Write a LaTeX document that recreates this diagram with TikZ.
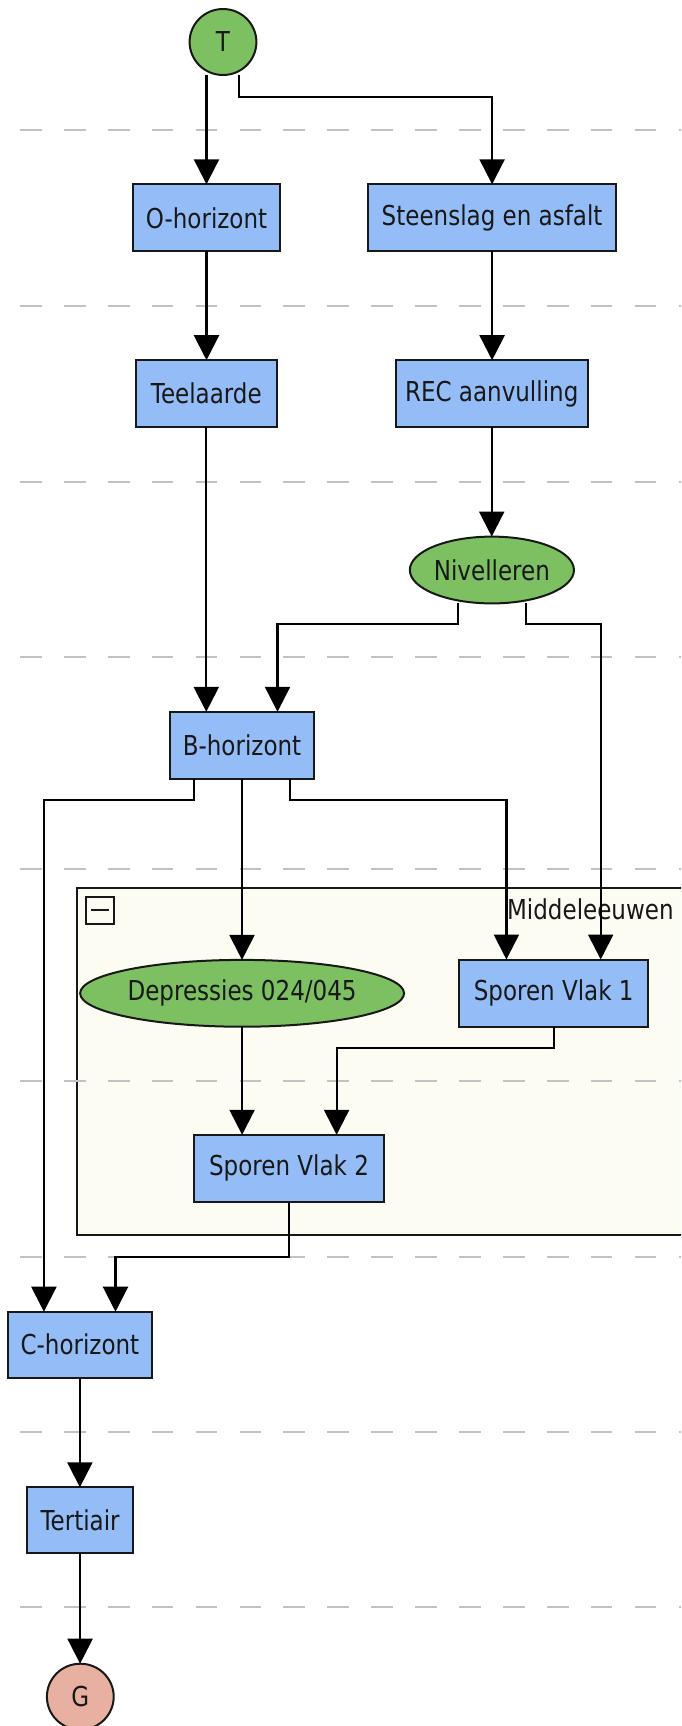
\documentclass[tikz,border=0pt]{standalone}
\usepackage{fontspec}
\setmainfont{DejaVu Sans}[FakeStretch=0.84]
\usetikzlibrary{arrows.meta,shapes.geometric,calc}
\definecolor{boxblue}{RGB}{148,189,247}
\definecolor{nodegreen}{RGB}{125,192,98}
\definecolor{endpink}{RGB}{232,176,160}
\definecolor{grpfill}{RGB}{252,252,243}
\definecolor{linegray}{RGB}{194,194,194}
\definecolor{ink}{RGB}{24,24,24}
\tikzset{
  lbl/.style={font=\fontsize{13.7}{16}\selectfont, text=ink},
  taskbox/.style={lbl, rectangle, draw=ink, line width=1pt, fill=boxblue, inner sep=0pt, outer sep=0pt, minimum height=33.5pt},
  greenell/.style={lbl, ellipse, draw=ink, line width=1pt, fill=nodegreen, inner sep=0pt, outer sep=0pt, minimum height=33.4pt},
  endell/.style={lbl, ellipse, draw=ink, line width=1pt, fill=endpink, inner sep=0pt, outer sep=0pt, minimum height=33pt, minimum width=33.4pt},
  edge/.style={draw=black, line width=1.1pt, -{Triangle[width=12.5pt,length=12.5pt]}},
  gridline/.style={draw=linegray, line width=1pt, dash pattern=on 10.85pt off 11.1pt},
  groupbox/.style={draw=ink, line width=1pt, fill=grpfill}
}
\begin{document}
\begin{tikzpicture}[x=0.5pt, y=-0.5pt]
\clip (0,0) rectangle (681,1726);
\fill[white] (0,0) rectangle (681,1726);

% group
\draw[groupbox] (76.9,888) rectangle (700,1235);

% swimlane separators
\foreach \yy in {130,305.7,481.7,657.3,868.7,1081,1256.7,1432,1607}
  \draw[gridline] (20,\yy) -- (681,\yy);

% group decorations
\node[draw=ink, line width=1pt, fill=grpfill, minimum size=13.7pt, inner sep=0pt] (icon) at (99.8,910.3) {};
\draw[ink, line width=1.1pt] ($(icon.west)+(2.9pt,0.3pt)$) -- ($(icon.east)+(-2.9pt,0.3pt)$);
\node[lbl, anchor=west, inner sep=0pt] (grplabel) at (506.7,909) {Middeleeuwen};

% nodes
\node[endell, fill=nodegreen] (T) at (223,42) {T};
\node[taskbox, minimum width=73.6pt] (O) at (206.5,217.8) {O-horizont};
\node[taskbox, minimum width=124.2pt] (S) at (492.1,217.8) {Steenslag en asfalt};
\node[taskbox, minimum width=70.4pt] (Teel) at (206.3,393.7) {Teelaarde};
\node[taskbox, minimum width=96pt] (REC) at (491.7,393.7) {REC aanvulling};
\node[greenell, minimum width=68.4pt] (Niv) at (491.9,570) {Nivelleren};
\node[taskbox, minimum width=71.6pt] (B) at (242,745.3) {B-horizont};
\node[greenell, minimum width=130pt] (Dep) at (242.1,993.3) {Depressies 024/045};
\node[taskbox, minimum width=94.7pt] (SV1) at (553.7,993) {Sporen Vlak 1};
\node[taskbox, minimum width=94.9pt] (SV2) at (289,1168.3) {Sporen Vlak 2};
\node[taskbox, minimum width=72.1pt, minimum height=33pt] (C) at (79.9,1344.7) {C-horizont};
\node[taskbox, minimum width=53.2pt, minimum height=33pt] (Tert) at (80.1,1520.3) {Tertiair};
\node[endell] (G) at (80.3,1696.7) {G};

% bend points
\coordinate (tS) at (238.9,96.7);
\coordinate (nB) at (458.2,624);
\coordinate (nB2) at (277.5,624);
\coordinate (nS) at (526,624);
\coordinate (nS2) at (600.7,624);
\coordinate (bC) at (194.1,800);
\coordinate (bC2) at (43.9,800);
\coordinate (bS) at (289.7,800);
\coordinate (bS2) at (506.4,800);
\coordinate (s2) at (336.6,1048.3);
\coordinate (c2) at (115.5,1256.7);

% connectors
\draw[edge] (T.south -| O.north) -- (O.north);
\draw[edge] (T.south -| tS) -- (tS) -| (S.north);
\draw[edge] (O.south) -- (O.south |- Teel.north);
\draw[edge] (S.south) -- (S.south |- REC.north);
\draw[edge] (REC.south) -- (REC.south |- Niv.north);
\draw[edge] (Teel.south) -- (Teel.south |- B.north);
\draw[edge] (Niv.south -| nB) -- (nB) -- (nB2) -- (nB2 |- B.north);
\draw[edge] (Niv.south -| nS) -- (nS) -- (nS2) -- (nS2 |- SV1.north);
\draw[edge] (B.south -| bC) -- (bC) -- (bC2) -- (bC2 |- C.north);
\draw[edge] (B.south) -- (B.south |- Dep.north);
\draw[edge] (B.south -| bS) -- (bS) -- (bS2) -- (bS2 |- SV1.north);
\draw[edge] (Dep.south) -- (Dep.south |- SV2.north);
\draw[edge] (SV1.south) -- (SV1.south |- s2) -- (s2) -- (s2 |- SV2.north);
\draw[edge] (SV2.south) -- (SV2.south |- c2) -- (c2) -- (c2 |- C.north);
\draw[edge] (C.south) -- (C.south |- Tert.north);
\draw[edge] (Tert.south) -- (Tert.south |- G.north);
\end{tikzpicture}
\end{document}
